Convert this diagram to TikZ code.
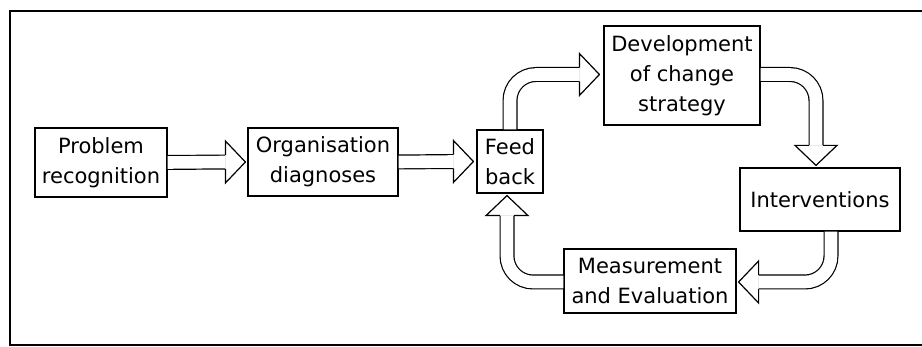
\documentclass[tikz,border=0pt]{standalone}
\usepackage{fontspec}
\setmainfont{DejaVu Sans}
\usetikzlibrary{calc}

\tikzset{
  box/.style={draw, line width=1.2pt, inner sep=0pt, align=center,
              font=\fontsize{21}{30}\selectfont},
  tube/.style={line width=1.2pt, double=white, double distance=12.6pt,
               rounded corners=26pt},
  tip/.style={draw, fill=white, line width=1.2pt, line join=miter}
}

% arrow head of a block arrow: #1 = base point, #2 = direction (degrees)
\newcommand\blockhead[2]{%
  \begin{scope}[shift={(#1)}, rotate=#2, x=1pt, y=1pt]
    \draw[tip] (0,6.9) -- (0,21) -- (20,0) -- (0,-21) -- (0,-6.9);
  \end{scope}}

\begin{document}
\begin{tikzpicture}[x=1pt, y=-1pt]
  \useasboundingbox (0,0) rectangle (922,347);

  % frame
  \draw[line width=1.5pt] (922,11) -- (10,11) -- (10,345) -- (922,345);

  % steps
  \node[box, minimum width=132pt, minimum height=69pt] (prob) at (101,162.5) {Problem\\recognition};
  \node[box, minimum width=150pt, minimum height=68pt] (org)  at (323,162) {Organisation\\diagnoses};
  \node[box, minimum width=66pt,  minimum height=63pt] (feed) at (510,161.5) {Feed\\back};
  \node[box, minimum width=156pt, minimum height=99pt] (dev)  at (682,75.5) {Development\\of change\\strategy};
  \node[box, minimum width=160pt, minimum height=63pt] (int)  at (820,199.5) {Interventions};
  \node[box, minimum width=172pt, minimum height=64pt] (meas) at (650,281) {Measurement\\and Evaluation};

  % base points of the arrow heads
  \coordinate (h1) at ($(org.west)+(-22,0)$);
  \coordinate (h2) at ($(feed.west)+(-23,0)$);
  \coordinate (hA) at ($(dev.west)+(-24,-1)$);
  \coordinate (hB) at ($(int.north)+(-4,-22)$);
  \coordinate (hC) at ($(meas.east)+(22,1)$);
  \coordinate (hD) at ($(feed.south)+(-3,22)$);

  % straight arrows
  \draw[tube] (prob.east) -- (h1);
  \blockhead{h1}{0}
  \draw[tube] (org.east) -- (h2);
  \blockhead{h2}{0}

  % the loop
  \draw[tube] (feed.north) |- (hA);
  \blockhead{hA}{0}
  \draw[tube] ($(dev.east)+(0,-1)$) -| (hB);
  \blockhead{hB}{-90}
  \draw[tube] ($(int.south)+(11,0)$) |- (hC);
  \blockhead{hC}{180}
  \draw[tube] ($(meas.west)+(0,1)$) -| (hD);
  \blockhead{hD}{90}
\end{tikzpicture}
\end{document}
